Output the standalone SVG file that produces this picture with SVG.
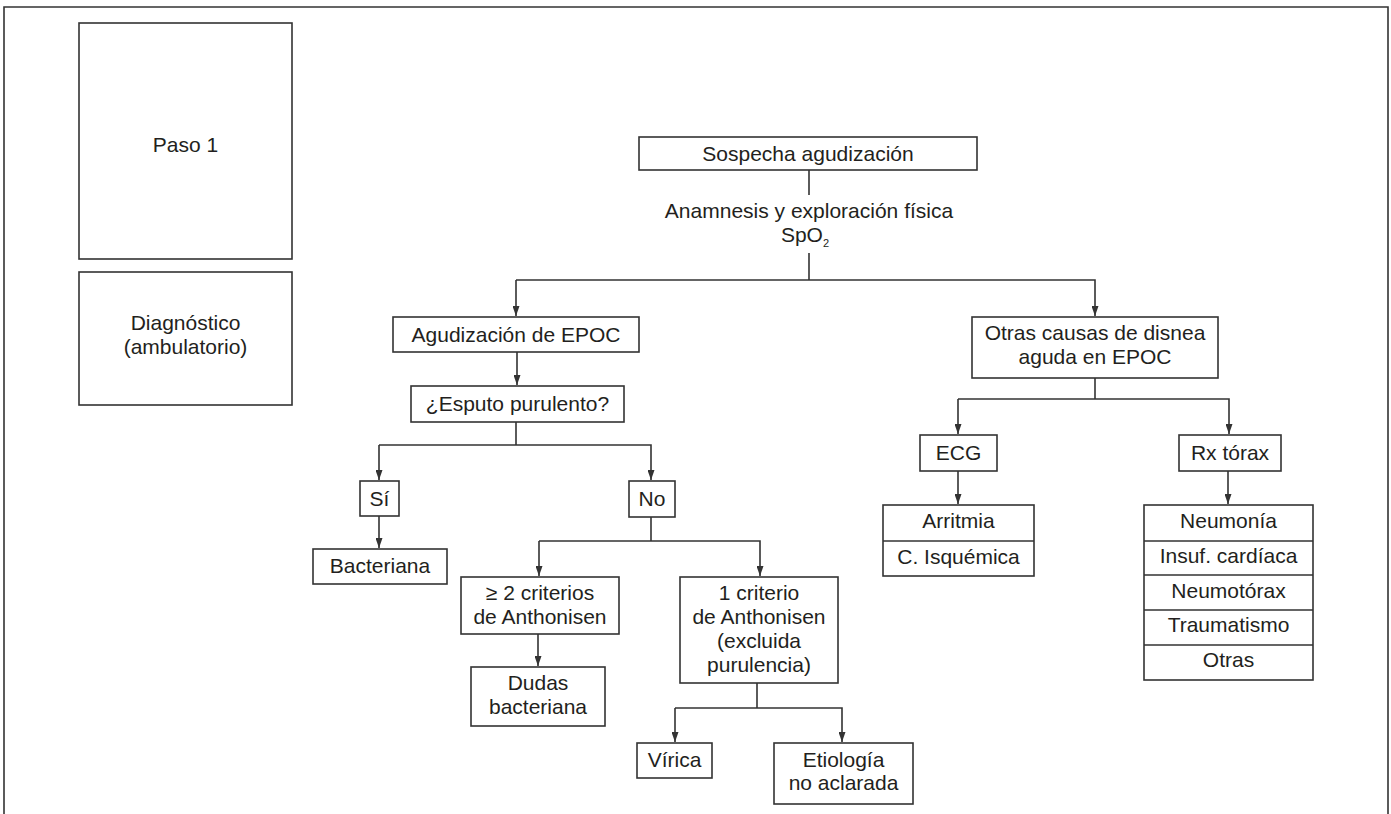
<svg xmlns="http://www.w3.org/2000/svg" width="1391" height="814" viewBox="0 0 1391 814">
<defs>
<marker id="arr" viewBox="0 0 10 7" refX="10" refY="3.5" markerWidth="10" markerHeight="7" markerUnits="userSpaceOnUse" orient="auto">
<path d="M0,0 L10,3.5 L0,7 z" fill="#333"/>
</marker>
<style>
.box{fill:#fff;stroke:#333;stroke-width:1.6}
.ln{fill:none;stroke:#333;stroke-width:1.6}
.ar{fill:none;stroke:#333;stroke-width:1.6;marker-end:url(#arr)}
text{font-family:"Liberation Sans",Arial,sans-serif;font-size:21px;fill:#231f20;text-anchor:middle}
</style>
</defs>
<rect width="1391" height="814" fill="#fff"/>
<path class="ln" d="M4,814 V7 H1388 V814"/>
<g id="paso1"><rect class="box" x="79" y="23" width="213" height="236"/><text x="185.5" y="152">Paso 1</text></g>
<g id="diagnostico"><rect class="box" x="79" y="272" width="213" height="133"/><text x="185.5" y="330">Diagnóstico</text><text x="185.5" y="354">(ambulatorio)</text></g>
<g id="connectors">
<path class="ln" d="M809,170 V195"/>
<path class="ln" d="M809,253 V280"/>
<path class="ar" d="M516,280 H1095 V316"/>
<path class="ar" d="M516,280 V316"/>
<path class="ar" d="M517,352 V385"/>
<path class="ln" d="M516,422 V445"/>
<path class="ar" d="M379,445 H651 V480"/>
<path class="ar" d="M379,445 V480"/>
<path class="ar" d="M379,516 V548"/>
<path class="ln" d="M651,517 V541"/>
<path class="ar" d="M539,541 H760 V576"/>
<path class="ar" d="M539,541 V576"/>
<path class="ar" d="M538,634 V666"/>
<path class="ln" d="M757,683 V708"/>
<path class="ar" d="M675,708 H842 V742"/>
<path class="ar" d="M675,708 V742"/>
<path class="ln" d="M1095,378 V399"/>
<path class="ar" d="M958,399 H1229 V434"/>
<path class="ar" d="M958,399 V434"/>
<path class="ar" d="M958,471 V504"/>
<path class="ar" d="M1228,471 V504"/>
</g>
<g id="sospecha"><rect class="box" x="639" y="137" width="338" height="33"/><text x="808" y="161">Sospecha agudización</text></g>
<g id="anamnesis"><text x="809" y="218">Anamnesis y exploración física</text><text x="805" y="242">SpO<tspan font-size="11" dy="5">2</tspan></text></g>
<g id="agudizacion"><rect class="box" x="393" y="317" width="246" height="35"/><text x="516" y="342">Agudización de EPOC</text></g>
<g id="esputo"><rect class="box" x="411" y="386" width="213" height="36"/><text x="517.5" y="411">¿Esputo purulento?</text></g>
<g id="si"><rect class="box" x="360" y="481" width="39" height="35"/><text x="379.5" y="506">Sí</text></g>
<g id="no"><rect class="box" x="629" y="481" width="46" height="36"/><text x="652" y="506">No</text></g>
<g id="bacteriana"><rect class="box" x="313" y="549" width="134" height="35"/><text x="380" y="573">Bacteriana</text></g>
<g id="criterios2"><rect class="box" x="461" y="577" width="158" height="57"/><text x="540" y="600">≥ 2 criterios</text><text x="540" y="624">de Anthonisen</text></g>
<g id="dudas"><rect class="box" x="471" y="667" width="134" height="59"/><text x="538" y="690">Dudas</text><text x="538" y="714">bacteriana</text></g>
<g id="criterio1"><rect class="box" x="680" y="577" width="158" height="106"/><text x="759" y="600">1 criterio</text><text x="759" y="624">de Anthonisen</text><text x="759" y="648">(excluida</text><text x="759" y="672">purulencia)</text></g>
<g id="virica"><rect class="box" x="637" y="743" width="75" height="35"/><text x="674.5" y="767">Vírica</text></g>
<g id="etiologia"><rect class="box" x="774" y="743" width="139" height="61"/><text x="843.5" y="767">Etiología</text><text x="843.5" y="790">no aclarada</text></g>
<g id="otras"><rect class="box" x="972" y="317" width="246" height="61"/><text x="1095" y="340">Otras causas de disnea</text><text x="1095" y="364">aguda en EPOC</text></g>
<g id="ecg"><rect class="box" x="920" y="435" width="77" height="36"/><text x="958.5" y="460">ECG</text></g>
<g id="rx"><rect class="box" x="1179" y="435" width="102" height="36"/><text x="1230" y="460">Rx tórax</text></g>
<g id="ecg-list"><rect class="box" x="883" y="505" width="151" height="71"/><path class="ln" d="M883,541 H1034"/><text x="958.5" y="528">Arritmia</text><text x="958.5" y="564">C. Isquémica</text></g>
<g id="rx-list"><rect class="box" x="1144" y="505" width="169" height="175"/><path class="ln" d="M1144,541 H1313 M1144,575 H1313 M1144,610 H1313 M1144,645 H1313"/><text x="1228.5" y="528">Neumonía</text><text x="1228.5" y="563">Insuf. cardíaca</text><text x="1228.5" y="598">Neumotórax</text><text x="1228.5" y="632">Traumatismo</text><text x="1228.5" y="667">Otras</text></g>
</svg>
